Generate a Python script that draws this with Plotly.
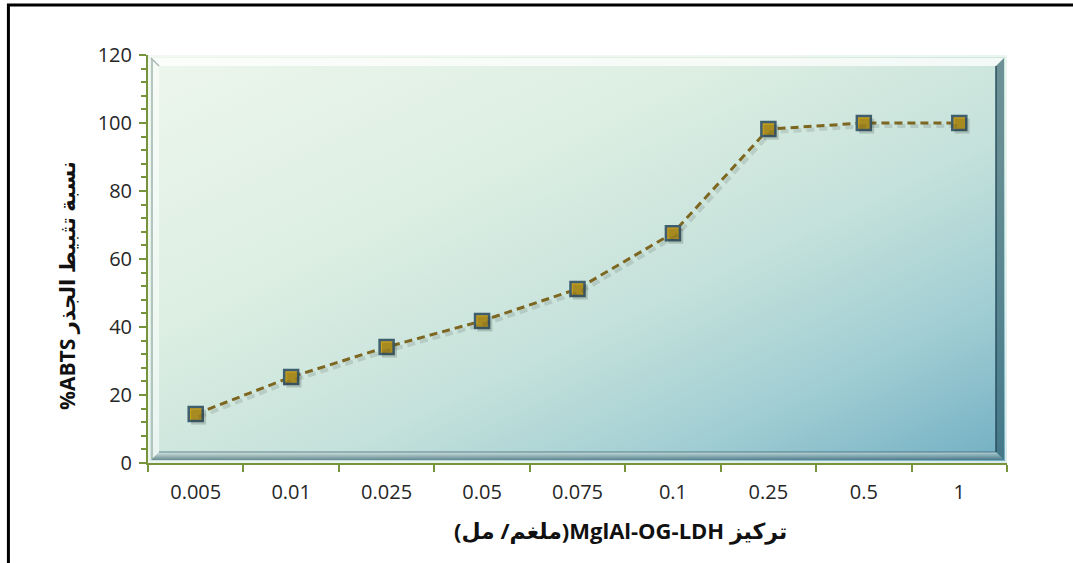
import base64
import plotly.graph_objects as go

# Concentration categories (mg/mL) and ABTS radical scavenging (%)
concentrations = ["0.005", "0.01", "0.025", "0.05", "0.075", "0.1", "0.25", "0.5", "1"]
scavenging = [14.4, 25.3, 34.1, 41.8, 51.2, 67.6, 98.2, 100, 100]

y_ticks = [0, 20, 40, 60, 80, 100, 120]

x_title = "\u202bتركيز MglAl-OG-LDH(ملغم/ مل)\u202c"
y_title = "%ABTS نسبة تثبيط الجذر"

OLIVE = "#77933C"
LINE_COLOR = "#7C6620"

# Bevelled, gradient-filled plot-area background drawn as an SVG image
W, H = 859, 408
o, i = 3, 11
svg = f"""<svg xmlns='http://www.w3.org/2000/svg' width='{W}' height='{H}' viewBox='0 0 {W} {H}' preserveAspectRatio='none'>
<defs>
<linearGradient id='g' x1='0' y1='0' x2='1' y2='1'>
<stop offset='0' stop-color='#EDF6EC'/>
<stop offset='0.35' stop-color='#DCEEE2'/>
<stop offset='0.6' stop-color='#C4E1DB'/>
<stop offset='0.8' stop-color='#A0CDD3'/>
<stop offset='1' stop-color='#72AFC3'/>
</linearGradient>
<linearGradient id='b' x1='0' y1='0' x2='0' y2='1'>
<stop offset='0' stop-color='#D8E6E2' stop-opacity='0.6'/>
<stop offset='1' stop-color='#2A5060' stop-opacity='0.6'/>
</linearGradient>
</defs>
<rect x='0' y='0' width='{W}' height='{H}' fill='url(#g)'/>
<rect x='0.5' y='0.5' width='{W-1}' height='{H-1}' fill='none' stroke='#F4F9F4' stroke-opacity='0.8' stroke-width='{o}'/>
<polygon points='{o},{o} {W-o},{o} {W-i},{i} {i},{i}' fill='#FFFFFF' fill-opacity='0.75'/>
<polygon points='{o},{o} {i},{i} {i},{H-i} {o},{H-o}' fill='#FFFFFF' fill-opacity='0.55'/>
<line x1='{o+1}' y1='{o+1}' x2='{o+1}' y2='{H-o-1}' stroke='#9FB3AE' stroke-width='1.5'/>
<line x1='{o}' y1='{o}' x2='{i}' y2='{i}' stroke='#A8B8B4' stroke-width='1.5'/>
<polygon points='{o},{H-o} {i},{H-i} {W-i},{H-i} {W-o},{H-o}' fill='url(#b)'/>
<polygon points='{W-o},{o} {W-o},{H-o} {W-i},{H-i} {W-i},{i}' fill='#1E4A5A' fill-opacity='0.55'/>
<line x1='{i}' y1='{H-i}' x2='{W-i}' y2='{H-i}' stroke='#2E5565' stroke-opacity='0.45' stroke-width='1.5'/>
<line x1='{W-i}' y1='{i}' x2='{W-i}' y2='{H-i}' stroke='#24495A' stroke-opacity='0.7' stroke-width='2'/>
</svg>"""
bg_uri = "data:image/svg+xml;base64," + base64.b64encode(svg.encode("utf-8")).decode("ascii")

fig = go.Figure()

# Soft drop shadow: the same series on slightly offset overlay axes
fig.add_trace(go.Scatter(
    x=concentrations,
    y=scavenging,
    xaxis="x2",
    yaxis="y2",
    mode="lines+markers",
    line=dict(color="rgba(40,50,40,0.14)", width=4, dash="8px,5px"),
    marker=dict(symbol="square", size=15, color="rgba(40,50,40,0.2)",
                line=dict(width=0)),
    showlegend=False,
    hoverinfo="skip",
))

fig.add_trace(go.Scatter(
    x=concentrations,
    y=scavenging,
    mode="lines+markers",
    line=dict(color=LINE_COLOR, width=3, dash="8px,5px"),
    marker=dict(symbol="square", size=14, color="#C9A21E",
                line=dict(color="#3F5E6E", width=2.5)),
    showlegend=False,
    hoverinfo="x+y",
))

fig.update_layout(
    width=1073,
    height=563,
    margin=dict(l=148, r=66, t=55, b=100),
    paper_bgcolor="white",
    plot_bgcolor="rgba(0,0,0,0)",
    font=dict(family="Open Sans, DejaVu Sans, sans-serif", size=20, color="#262626"),
    images=[dict(source=bg_uri, xref="paper", yref="paper", x=0, y=1,
                 sizex=1, sizey=1, sizing="stretch", layer="below",
                 xanchor="left", yanchor="top")],
    xaxis=dict(
        type="category",
        categoryorder="array",
        categoryarray=concentrations,
        range=[-0.5, 8.5],
        showgrid=False,
        zeroline=False,
        showline=True,
        linecolor=OLIVE,
        linewidth=2,
        ticks="outside",
        tickson="boundaries",
        ticklen=7,
        tickwidth=2,
        tickcolor=OLIVE,
        tickfont=dict(size=20, color="#262626"),
        ticklabelstandoff=10,
    ),
    xaxis2=dict(
        type="category",
        categoryorder="array",
        categoryarray=concentrations,
        overlaying="x",
        range=[-0.53, 8.47],
        visible=False,
    ),
    yaxis=dict(
        range=[0, 120],
        tickvals=y_ticks,
        showgrid=False,
        zeroline=False,
        showline=True,
        linecolor=OLIVE,
        linewidth=2,
        ticks="outside",
        ticklen=7,
        tickwidth=2,
        tickcolor=OLIVE,
        tickfont=dict(size=20, color="#262626"),
        ticklabelstandoff=3,
        minor=dict(dtick=4, ticks="outside", ticklen=5, tickwidth=1.5,
                   tickcolor=OLIVE, showgrid=False),
    ),
    yaxis2=dict(
        overlaying="y",
        range=[0.9, 120.9],
        visible=False,
    ),
    annotations=[
        dict(text=f"<b>{x_title}</b>", xref="paper", yref="paper",
             x=0.55, y=-0.165, xanchor="center", yanchor="middle",
             showarrow=False, font=dict(size=22, color="#111111")),
        dict(text=f"<b>{y_title}</b>", xref="paper", yref="paper",
             x=-0.095, y=0.435, xanchor="center", yanchor="middle",
             textangle=-90, showarrow=False, font=dict(size=21, color="#111111")),
    ],
    shapes=[
        dict(type="rect", xref="paper", yref="paper",
             x0=-0.1625, x1=1.3, y0=-0.6, y1=1.1225,
             line=dict(color="black", width=3), fillcolor="rgba(0,0,0,0)",
             layer="below"),
    ],
)

fig.write_html("out.html")
